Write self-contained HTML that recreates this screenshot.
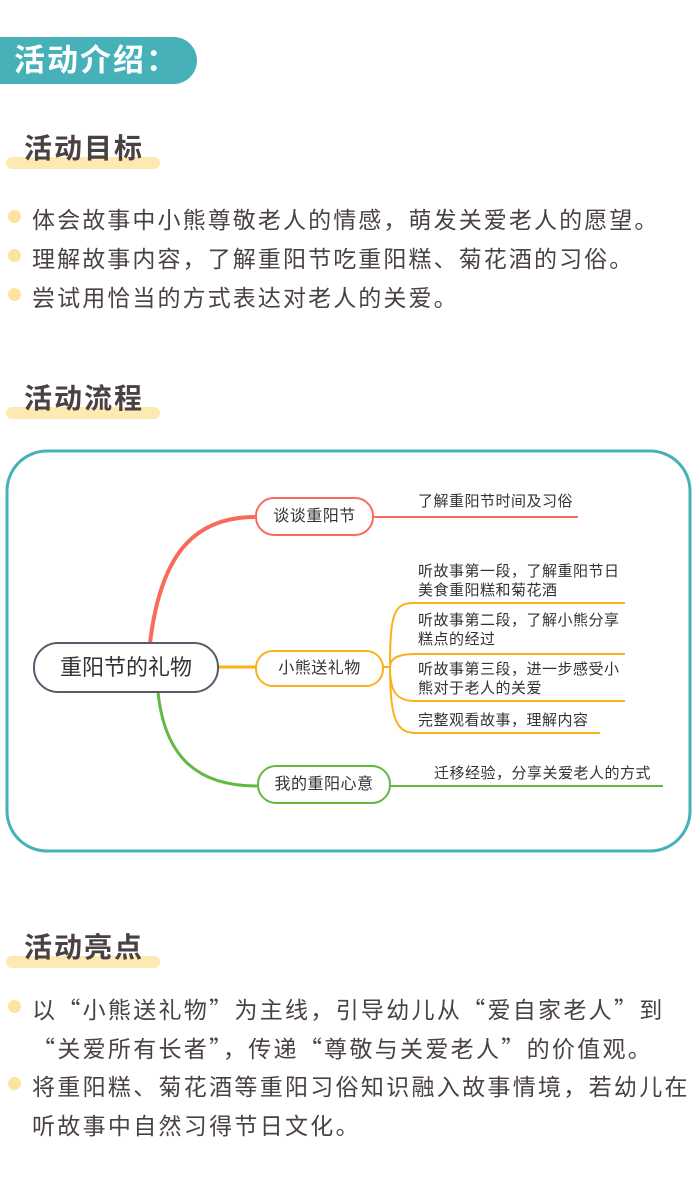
<!DOCTYPE html>
<html><head><meta charset="utf-8"><style>
body{margin:0;width:700px;height:1179px;background:#fff;position:relative;overflow:hidden;font-family:"Liberation Sans","Noto Sans CJK SC",sans-serif;color:#4a4242}
.a{position:absolute;white-space:nowrap}
.q{font-family:"Noto Sans CJK SC",sans-serif}
.pill{left:0;top:37px;width:197px;height:47px;background:#46b1b8;border-radius:0 24px 24px 0;color:#fff;font-size:31px;font-weight:bold;line-height:47px;padding-left:14px;box-sizing:border-box;letter-spacing:2px}
.hbar{height:12px;background:#fde9b2;border-radius:6px;width:154px;left:6px}
.h{font-size:28px;font-weight:bold;left:24px;color:#4a4242;letter-spacing:2px}
.dot{width:13px;height:13px;border-radius:50%;background:#fde3a0;left:8px}
.t{font-size:23px;left:32px;letter-spacing:2.1px}
.m{font-size:15px;color:#333;letter-spacing:0.5px}
</style></head><body>
<div class="a pill">活动介绍：</div>

<div class="a hbar" style="top:157px"></div>
<div class="a h" style="top:127px">活动目标</div>
<div class="a dot" style="top:210px"></div><div class="a t" style="top:201px">体会故事中小熊尊敬老人的情感，萌发关爱老人的愿望。</div>
<div class="a dot" style="top:249px"></div><div class="a t" style="top:240px">理解故事内容，了解重阳节吃重阳糕、菊花酒的习俗。</div>
<div class="a dot" style="top:288px"></div><div class="a t" style="top:279px">尝试用恰当的方式表达对老人的关爱。</div>

<div class="a hbar" style="top:407px"></div>
<div class="a h" style="top:377px">活动流程</div>

<svg class="a" style="left:0;top:0" width="700" height="1179">
<rect x="7" y="451" width="683" height="400" rx="40" fill="none" stroke="#46b1b8" stroke-width="3"/>
<path d="M150 643 C160 560,190 517,255 517" fill="none" stroke="#f86a5c" stroke-width="4"/>
<path d="M373 517 L578 517" stroke="#f86a5c" stroke-width="2"/>
<rect x="256" y="498" width="117" height="37" rx="18" fill="#fff" stroke="#f86a5c" stroke-width="2"/>
<path d="M218 667 L256 667" stroke="#fbb21a" stroke-width="3"/>
<path d="M383 667 L390 667" stroke="#fbb21a" stroke-width="2"/>
<path d="M390 667 C390 610,395 603,415 603 L625 603 M390 667 C390 660,395 654,415 654 L625 654 M390 667 C390 690,395 701,415 701 L625 701 M390 667 C390 715,395 733,415 733 L600 733" fill="none" stroke="#fbb21a" stroke-width="2"/>
<rect x="256" y="651" width="127" height="35" rx="17" fill="#fff" stroke="#fbb21a" stroke-width="2"/>
<path d="M158 692 C165 760,200 786,257 786" fill="none" stroke="#62b843" stroke-width="3"/>
<path d="M390 786 L663 786" stroke="#62b843" stroke-width="2"/>
<rect x="258" y="766" width="132" height="37" rx="18" fill="#fff" stroke="#62b843" stroke-width="2"/>
<rect x="34" y="643" width="184" height="49" rx="24" fill="#fff" stroke="#5a5a6a" stroke-width="2"/>
</svg>
<div class="a" style="left:34px;top:643px;width:184px;height:49px;line-height:49px;text-align:center;font-size:22px;color:#333">重阳节的礼物</div>
<div class="a m" style="left:256px;top:498px;width:117px;line-height:37px;text-align:center;font-size:16px">谈谈重阳节</div>
<div class="a m" style="left:256px;top:651px;width:127px;line-height:35px;text-align:center;font-size:16px">小熊送礼物</div>
<div class="a m" style="left:258px;top:766px;width:132px;line-height:37px;text-align:center;font-size:16px">我的重阳心意</div>
<div class="a m" style="left:418px;top:490px">了解重阳节时间及习俗</div>
<div class="a m" style="left:418px;top:562px;line-height:19px">听故事第一段，了解重阳节日<br>美食重阳糕和菊花酒</div>
<div class="a m" style="left:418px;top:611px;line-height:19px">听故事第二段，了解小熊分享<br>糕点的经过</div>
<div class="a m" style="left:418px;top:660px;line-height:19px">听故事第三段，进一步感受小<br>熊对于老人的关爱</div>
<div class="a m" style="left:418px;top:709px">完整观看故事，理解内容</div>
<div class="a m" style="left:434px;top:762px">迁移经验，分享关爱老人的方式</div>

<div class="a hbar" style="top:956px"></div>
<div class="a h" style="top:926px">活动亮点</div>
<div class="a dot" style="top:1000px"></div><div class="a t" style="top:991px;letter-spacing:2.3px">以<span class="q">“</span>小熊送礼物<span class="q">”</span>为主线，引导幼儿从<span class="q">“</span>爱自家老人<span class="q">”</span>到</div>
<div class="a t" style="top:1030px;letter-spacing:2.3px"><span class="q">“</span>关爱所有长者<span class="q">”</span>，传递<span class="q">“</span>尊敬与关爱老人<span class="q">”</span>的价值观。</div>
<div class="a dot" style="top:1077px"></div><div class="a t" style="top:1068px;letter-spacing:2.3px">将重阳糕、菊花酒等重阳习俗知识融入故事情境，若幼儿在</div>
<div class="a t" style="top:1107px;letter-spacing:2.3px">听故事中自然习得节日文化。</div>
</body></html>
